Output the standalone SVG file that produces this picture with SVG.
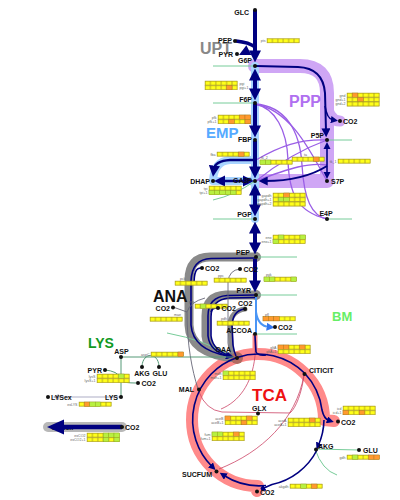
<svg xmlns="http://www.w3.org/2000/svg" xmlns:xlink="http://www.w3.org/1999/xlink" width="400" height="500" viewBox="0 0 400 500">
<style>
.n{font:bold 7px "Liberation Sans",Arial,sans-serif;fill:#111}
.t{font:3.6px "Liberation Sans",Arial,sans-serif;fill:#666}
.big{font-family:"Liberation Sans",Arial,sans-serif;font-weight:bold}
.d{fill:#111}
.main{stroke:#000080;stroke-width:4;fill:none}
.thin{stroke:#000080;stroke-width:1.6;fill:none}
.bm{stroke:#77cc99;stroke-width:1;fill:none}
.pur{stroke:#9a5ee6;stroke-width:1.3;fill:none}
.ana{stroke:#8a8a8a;fill:none;stroke-linecap:round}
.gl{stroke:#666677;stroke-width:0.9;fill:none}
.cr{stroke:#cc4466;stroke-width:0.8;fill:none}
.ly{stroke:#559977;stroke-width:1;fill:none}
</style>
<defs>
<marker id="ah" viewBox="0 0 10 10" refX="3" refY="5" markerWidth="3" markerHeight="3" orient="auto-start-reverse"><path d="M0,0 L10,5 L0,10 z" fill="#000080"/></marker>
<marker id="as" viewBox="0 0 10 10" refX="3" refY="5" markerWidth="4.5" markerHeight="4.5" orient="auto-start-reverse"><path d="M0,0 L10,5 L0,10 z" fill="#000080"/></marker>
<marker id="ab" viewBox="0 0 10 10" refX="3" refY="5" markerWidth="4" markerHeight="4" orient="auto"><path d="M0,0 L10,5 L0,10 z" fill="#3377ee"/></marker>
<marker id="ag" viewBox="0 0 10 10" refX="3" refY="5" markerWidth="4" markerHeight="4" orient="auto"><path d="M0,0 L10,5 L0,10 z" fill="#aaaabb"/></marker>
<pattern id="cy" width="5.4" height="4.4" patternUnits="userSpaceOnUse"><rect width="5.4" height="4.4" fill="#ffff1a" stroke="#a89a20" stroke-width="0.8"/></pattern>
<rect id="s6" width="32.4" height="4.4" fill="url(#cy)" stroke="#a89a20" stroke-width="0.4"/>
<rect id="co" width="5.4" height="4.4" fill="#ff9a2e" stroke="#a87020" stroke-width="0.4"/>
<rect id="cg" width="5.4" height="4.4" fill="#b8f040" stroke="#88a020" stroke-width="0.4"/>
</defs>
<rect width="400" height="500" fill="#fff"/>

<g id="bands">
<path d="M255,66 L300,66 Q327,66 327,93 L327,181 L256,181" stroke="#cfa6f5" stroke-width="14" fill="none" stroke-linejoin="round" stroke-linecap="round"/>
<path d="M327,104 Q329,121 340,121" stroke="#cfa6f5" stroke-width="11" fill="none" stroke-linecap="round"/>
<path d="M255,66 L255,219 M213,181 L255,181 M255,160 L230,160 Q214,161 213,181" stroke="#a8d4ff" stroke-width="8" fill="none" stroke-linecap="round"/>
<path d="M334,421 L324,420 A66,66 0 1 0 258,486 L257,491" stroke="#ff8a8a" stroke-width="12" fill="none" stroke-linecap="round" stroke-linejoin="round"/>
<path d="M255,334 L255,356" stroke="#ff8a8a" stroke-width="5" fill="none"/>
<path class="ana" stroke-width="9" d="M256,257 L210,257 Q189,257 189,280 L189,325 Q190,354 236,358"/>
<path class="ana" stroke-width="9" d="M256,295 L226,295 Q206,296 206,316 L206,336 Q208,355 236,358"/>
<path class="ana" stroke-width="5" d="M245,309 Q231,311 230,325 L231,345 Q232,355 236,358"/>
<circle cx="256" cy="257" r="5" fill="#8a8a8a"/>
<circle cx="256" cy="295" r="5" fill="#8a8a8a"/>
<circle cx="237" cy="358" r="6" fill="#b06a60"/>
<path d="M122,427 L48,427" stroke="#b8b8b8" stroke-width="10" stroke-linecap="round"/>
</g>

<g id="connectors">
<path class="bm" d="M213,66 L255,66 M213,103 L255,103 M327,140 L352,140 M255,181 Q235,195 213,200 M213,219 L255,219 M327,219 L352,219 M256,257 L297,257 M256,295 L297,295 M255,334 L297,334 M167,333 Q205,340 233,357 M315,449 Q322,470 337,475 M315,449 L359,450"/>
<path class="pur" d="M255,104 C285,106 300,130 302,165 C304,200 312,216 327,219"/>
<path class="pur" d="M255,104 C275,108 287,130 288,160 C289,195 298,212 327,219"/>
<path class="pur" d="M255,104 C292,110 312,155 327,181"/>
<path class="pur" d="M256,160 C280,146 300,139 327,140"/>
<path class="pur" d="M256,181 C282,160 305,148 327,140"/>
<path class="pur" d="M256,181 C290,168 310,162 327,165"/>
<path class="main" d="M255,10 L255,54" marker-end="url(#ah)"/>
<path d="M236,41 C245,42 250,43 255,47" stroke="#000080" stroke-width="3.5" fill="none"/>
<polygon points="239,55 251.3,55 246.4,45.2" fill="#000080"/>
<path class="main" d="M255,77 L255,92" marker-start="url(#ah)" marker-end="url(#ah)"/>
<path class="main" d="M255,104 L255,129" marker-end="url(#ah)"/>
<path class="main" d="M255,141 L255,170" marker-end="url(#ah)"/>
<path d="M255,160 L230,160 Q215,161 214,169" stroke="#000080" stroke-width="2.5" fill="none" marker-end="url(#as)"/>
<path d="M222,181 L246,181" stroke="#000080" stroke-width="2.5" fill="none" marker-start="url(#as)" marker-end="url(#as)"/>
<path class="main" d="M255,192 L255,208" marker-start="url(#ah)" marker-end="url(#ah)"/>
<path class="main" d="M255,230 L255,246" marker-start="url(#ah)" marker-end="url(#ah)"/>
<path class="main" d="M255,259 L255,284" marker-end="url(#ah)"/>
<path d="M256,66 L298,67 Q323,68 325,93 L326,131" stroke="#000080" stroke-width="2" fill="none" marker-end="url(#as)"/>
<path d="M325,106 Q327,119 333,120" class="thin" marker-end="url(#as)"/>
<path d="M327,147 L327,174" class="thin" marker-start="url(#as)" marker-end="url(#as)"/>
<path d="M327,166 Q303,181 265,181" stroke="#000080" stroke-width="2" fill="none" marker-end="url(#as)"/>
<path d="M256,297 L256,334" stroke="#4a95f5" stroke-width="2" fill="none"/>
<path d="M256,312 Q258,326 269,327" stroke="#4a95f5" stroke-width="2" fill="none" marker-end="url(#ab)"/>
<path class="thin" d="M255,258 L211,258.5 Q192,259 191,281 L191,325 Q193,350 228,356" marker-end="url(#as)"/>
<path class="thin" d="M194,285 C194,272 196,268 201,268"/>
<path class="thin" d="M255,295 L227,295.5 Q208,297 208,316 L208,336 Q210,352 229,356" marker-end="url(#as)"/>
<path class="thin" d="M255,297.5 L229,298 Q211,300 211,317 L211,336 Q213,351 231,356"/>
<path class="thin" d="M211,312 Q212,308 217,308"/>
<path class="thin" d="M244,309 Q233,311 232,325 L233,345 Q234,352 236,356"/>
<path class="gl" d="M240,269 Q229,270 228,282 L228,343 Q229,354 235,358"/>
<path class="gl" d="M198,389 C192,370 187,345 187,312 L173,307 M187,312 Q190,302 205,298"/>
<path class="cr" d="M255,336 L255,356 C252,385 238,402 221,409"/>
<path class="cr" d="M199,392 Q206,410 222,412 L290,413 C296,408 302,392 304,375"/>
<path class="cr" d="M304,375 C296,420 262,452 219,469"/>
<path d="M255,336 L256,352 Q258,356 266,355" class="thin"/>
<path class="thin" d="M237.2,357.4 A66,66 0 0 1 304.7,373.3"/>
<path class="thin" d="M304.7,373.3 A66,66 0 0 1 322,410 Q324,419 329,420.5" marker-end="url(#as)"/>
<path class="thin" d="M324,420 A66,66 0 0 1 318.5,445" marker-end="url(#as)"/>
<path class="thin" d="M317,450 A66,66 0 0 1 272,484.5 Q266,487 263,488.5" marker-end="url(#as)"/>
<path class="thin" d="M266,485.5 A66,66 0 0 1 224,475.5" marker-end="url(#as)"/>
<path class="thin" d="M237.2,357.4 A66,66 0 0 0 212,466.5" marker-end="url(#as)"/>
<path class="ly" d="M121,357 L233,357 M121,357 L121,397 M105,370 Q117,371 121,378 M121,381 Q125,383 136,383 M142,366 C143,352 158,352 159,366"/>
<path d="M121,397 L57,397" stroke="#c8c8d8" stroke-width="1.5" fill="none" marker-end="url(#ag)"/>
<text class="n" x="51" y="430">CO2ex</text>
<path d="M122,427 L62,427" stroke="#000080" stroke-width="4.5"/>
<polygon points="47,427 64,419.5 64,434.5" fill="#000080"/>
</g>

<g id="strips">
<g transform="translate(267,38.5)"><use href="#s6"/><text class="t" x="-1.5" y="3.6" text-anchor="end">pts</text></g>
<g transform="translate(205,81)"><use href="#s6"/><text class="t" x="34.5" y="3.6">pgi</text></g>
<g transform="translate(205,85.4)"><use href="#s6"/><use href="#co" x="21.6"/><text class="t" x="34.5" y="3.6">pgi+1</text></g>
<g transform="translate(347,93)"><use href="#s6"/><use href="#co" x="5.4"/><text class="t" x="-1.5" y="3.6" text-anchor="end">gnd</text></g>
<g transform="translate(347,97.4)"><use href="#s6"/><use href="#co" x="10.8"/><text class="t" x="-1.5" y="3.6" text-anchor="end">gnd+1</text></g>
<g transform="translate(347,101.8)"><use href="#s6"/><text class="t" x="-1.5" y="3.6" text-anchor="end">gnd+2</text></g>
<g transform="translate(218,115)"><use href="#s6"/><use href="#co" x="21.6"/><use href="#co" x="27"/><text class="t" x="-1.5" y="3.6" text-anchor="end">pfk</text></g>
<g transform="translate(218,119.4)"><use href="#s6"/><use href="#co" x="10.8"/><use href="#co" x="27"/><text class="t" x="-1.5" y="3.6" text-anchor="end">pfk+1</text></g>
<g transform="translate(217,152)"><use href="#s6"/><use href="#co" x="21.6"/><text class="t" x="-1.5" y="3.6" text-anchor="end">fba</text></g>
<g transform="translate(260,160)"><use href="#s6"/><use href="#cg" x="0"/><use href="#cg" x="5.4"/><text class="t" x="1" y="-1">tk_2</text></g>
<g transform="translate(292,157)"><use href="#s6"/><use href="#co" x="21.6"/><text class="t" x="12" y="-1">ta</text></g>
<g transform="translate(338,159)"><use href="#s6"/><text class="t" x="-1.5" y="3.6" text-anchor="end">tk_1</text></g>
<g transform="translate(209,186)"><use href="#s6"/><text class="t" x="-1.5" y="3.6" text-anchor="end">tpi</text></g>
<g transform="translate(209,190.4)"><use href="#s6"/><use href="#cg" x="0"/><use href="#cg" x="5.4"/><use href="#cg" x="10.8"/><use href="#cg" x="16.2"/><use href="#cg" x="21.6"/><text class="t" x="-1.5" y="3.6" text-anchor="end">tpi+1</text></g>
<g transform="translate(273,193)"><use href="#s6"/><use href="#co" x="10.8"/><text class="t" x="-1.5" y="3.6" text-anchor="end">gapdh</text></g>
<g transform="translate(273,197.4)"><use href="#s6"/><use href="#cg" x="5.4"/><use href="#cg" x="10.8"/><text class="t" x="-1.5" y="3.6" text-anchor="end">gapdh+1</text></g>
<g transform="translate(273,201.8)"><use href="#s6"/><text class="t" x="-1.5" y="3.6" text-anchor="end">gapdh+2</text></g>
<g transform="translate(273,235)"><use href="#s6"/><use href="#cg" x="5.4"/><use href="#cg" x="27"/><text class="t" x="-1.5" y="3.6" text-anchor="end">eno</text></g>
<g transform="translate(273,239.4)"><use href="#s6"/><use href="#cg" x="0"/><text class="t" x="-1.5" y="3.6" text-anchor="end">eno+1</text></g>
<g transform="translate(175,281)"><use href="#s6"/><text class="t" x="5" y="-1">pck</text></g>
<g transform="translate(214,278)"><use href="#s6"/><text class="t" x="4" y="-1">ppc</text></g>
<g transform="translate(264,277)"><use href="#s6"/><use href="#cg" x="0"/><use href="#cg" x="5.4"/><use href="#cg" x="27"/><text class="t" x="2" y="-1">pyk</text></g>
<g transform="translate(150,317)"><use href="#s6"/><text class="t" x="24" y="-1">mae</text></g>
<g transform="translate(195,304)"><use href="#s6"/><use href="#cg" x="5.4"/><text class="t" x="-6" y="-1">pyc</text></g>
<g transform="translate(217,321)"><use href="#s6"/><text class="t" x="4" y="-1">pdh</text></g>
<g transform="translate(263,316.5)"><use href="#s6"/><use href="#co" x="0"/><use href="#co" x="5.4"/><use href="#co" x="10.8"/><text class="t" x="2" y="-1">pfl</text></g>
<g transform="translate(278,345)"><use href="#s6"/><use href="#co" x="0"/><use href="#co" x="5.4"/><use href="#co" x="21.6"/><text class="t" x="-1.5" y="3.6" text-anchor="end">gltA</text></g>
<g transform="translate(278,349.4)"><use href="#s6"/><text class="t" x="-1.5" y="3.6" text-anchor="end">gltA+1</text></g>
<g transform="translate(223,371)"><use href="#s6"/><use href="#cg" x="0"/><text class="t" x="-1.5" y="3.6" text-anchor="end">mdh</text></g>
<g transform="translate(223,375.4)"><use href="#s6"/><text class="t" x="-1.5" y="3.6" text-anchor="end">mdh+1</text></g>
<g transform="translate(343,406)"><use href="#s6"/><text class="t" x="-1.5" y="3.6" text-anchor="end">icd</text></g>
<g transform="translate(343,410.4)"><use href="#s6"/><use href="#co" x="0"/><use href="#co" x="16.2"/><text class="t" x="-1.5" y="3.6" text-anchor="end">icd+1</text></g>
<g transform="translate(225,416)"><use href="#s6"/><use href="#co" x="0"/><use href="#co" x="21.6"/><text class="t" x="-1.5" y="3.6" text-anchor="end">aceB</text></g>
<g transform="translate(225,420.4)"><use href="#s6"/><use href="#co" x="16.2"/><text class="t" x="-1.5" y="3.6" text-anchor="end">aceB+1</text></g>
<g transform="translate(288,418)"><use href="#s6"/><use href="#co" x="21.6"/><text class="t" x="-1.5" y="3.6" text-anchor="end">aceA</text></g>
<g transform="translate(288,422.4)"><use href="#s6"/><text class="t" x="-1.5" y="3.6" text-anchor="end">aceA+1</text></g>
<g transform="translate(212,432)"><use href="#s6"/><use href="#cg" x="0"/><use href="#cg" x="5.4"/><use href="#co" x="21.6"/><text class="t" x="-1.5" y="3.6" text-anchor="end">fum</text></g>
<g transform="translate(212,436.4)"><use href="#s6"/><text class="t" x="-1.5" y="3.6" text-anchor="end">fum+1</text></g>
<g transform="translate(347,455)"><use href="#s6"/><use href="#cg" x="5.4"/><use href="#co" x="21.6"/><use href="#co" x="27"/><text class="t" x="-1.5" y="3.6" text-anchor="end">gdh</text></g>
<g transform="translate(290,484)"><use href="#s6"/><use href="#cg" x="10.8"/><use href="#co" x="21.6"/><text class="t" x="-1.5" y="3.6" text-anchor="end">akgdh</text></g>
<g transform="translate(151,352)"><use href="#s6"/><use href="#co" x="27"/><text class="t" x="-1.5" y="3.6" text-anchor="end">aspC</text></g>
<g transform="translate(97,374)"><use href="#s6"/><use href="#cg" x="21.6"/><text class="t" x="-1.5" y="3.6" text-anchor="end">lysS</text></g>
<g transform="translate(97,378.4)"><use href="#s6"/><text class="t" x="-1.5" y="3.6" text-anchor="end">lysS+1</text></g>
<g transform="translate(79,402)"><use href="#s6"/><use href="#co" x="5.4"/><use href="#cg" x="10.8"/><use href="#cg" x="16.2"/><text class="t" x="-1.5" y="3.6" text-anchor="end">exLYS</text></g>
<g transform="translate(87,433)"><use href="#s6"/><use href="#cg" x="16.2"/><use href="#cg" x="21.6"/><use href="#cg" x="27"/><text class="t" x="-1.5" y="3.6" text-anchor="end">exCO2</text></g>
<g transform="translate(87,437.4)"><use href="#s6"/><use href="#cg" x="16.2"/><use href="#cg" x="27"/><text class="t" x="-1.5" y="3.6" text-anchor="end">exCO2+1</text></g>
</g>

<g id="regions">
<text class="big" x="200" y="54" font-size="16" fill="#888">UPT</text>
<text class="big" x="206" y="138" font-size="15" fill="#55aaff">EMP</text>
<text class="big" x="289" y="107" font-size="16" fill="#b070f0">PPP</text>
<text class="big" x="153" y="301.5" font-size="16" fill="#111">ANA</text>
<text class="big" x="88" y="348" font-size="14" fill="#119922">LYS</text>
<text class="big" x="252" y="401" font-size="17" fill="#ee1111">TCA</text>
<text class="big" x="332" y="321" font-size="13" fill="#66ee66">BM</text>
</g>

<g id="nodes">
<g id="n-GLC"><circle class="d" cx="255" cy="10" r="2"/><text class="n" x="249" y="15" text-anchor="end">GLC</text></g>
<g id="n-PEPup"><circle class="d" cx="235" cy="41" r="2"/><text class="n" x="232" y="43" text-anchor="end">PEP</text></g>
<g id="n-PYRup"><circle class="d" cx="237" cy="54" r="2"/><text class="n" x="233" y="56.5" text-anchor="end">PYR</text></g>
<g id="n-G6P"><circle class="d" cx="255" cy="66" r="2"/><text class="n" x="252" y="63" text-anchor="end">G6P</text></g>
<g id="n-F6P"><circle class="d" cx="255" cy="103" r="2"/><text class="n" x="252" y="101.5" text-anchor="end">F6P</text></g>
<g id="n-FBP"><circle class="d" cx="255" cy="140" r="2"/><text class="n" x="252" y="142" text-anchor="end">FBP</text></g>
<g id="n-GA3P"><circle class="d" cx="255" cy="181" r="2"/><text class="n" x="252" y="183" text-anchor="end">GA3P</text></g>
<g id="n-DHAP"><circle class="d" cx="213" cy="181" r="2"/><text class="n" x="210" y="183.5" text-anchor="end">DHAP</text></g>
<g id="n-PGP"><circle class="d" cx="255" cy="219" r="2"/><text class="n" x="252" y="217" text-anchor="end">PGP</text></g>
<g id="n-P5P"><circle class="d" cx="327" cy="140" r="2"/><text class="n" x="324" y="137.5" text-anchor="end">P5P</text></g>
<g id="n-S7P"><circle class="d" cx="327" cy="181" r="2"/><text class="n" x="331" y="183.5">S7P</text></g>
<g id="n-E4P"><circle class="d" cx="327" cy="219" r="2"/><text class="n" x="326" y="215.5" text-anchor="middle">E4P</text></g>
<g id="n-CO2ppp"><circle class="d" cx="340" cy="121" r="2"/><text class="n" x="343" y="123.5">CO2</text></g>
<g id="n-PEP"><circle class="d" cx="256" cy="257" r="2"/><text class="n" x="250" y="255" text-anchor="end">PEP</text></g>
<g id="n-PYR"><circle class="d" cx="256" cy="295" r="2"/><text class="n" x="251" y="293" text-anchor="end">PYR</text></g>
<g id="n-CO2a"><circle class="d" cx="202" cy="268" r="2"/><text class="n" x="205" y="271">CO2</text></g>
<g id="n-CO2b"><circle class="d" cx="240" cy="269" r="2"/><text class="n" x="243.5" y="272">CO2</text></g>
<g id="n-CO2c"><circle class="d" cx="173" cy="307.5" r="2"/><text class="n" x="170" y="310.5" text-anchor="end">CO2</text></g>
<g id="n-CO2d"><circle class="d" cx="218" cy="308" r="2"/><text class="n" x="221.5" y="310.5">CO2</text></g>
<g id="n-CO2e"><circle class="d" cx="245" cy="309" r="2"/><text class="n" x="238" y="305.5">CO2</text></g>
<g id="n-ACCOA"><circle class="d" cx="255" cy="334" r="2"/><text class="n" x="252" y="333" text-anchor="end">ACCOA</text></g>
<g id="n-CO2f"><circle class="d" cx="275" cy="327" r="2"/><text class="n" x="278" y="329.5">CO2</text></g>
<g id="n-OAA"><circle class="d" cx="237" cy="358" r="2"/><text class="n" x="231" y="352" text-anchor="end">OAA</text></g>
<g id="n-CITICIT"><circle class="d" cx="304.5" cy="374" r="2"/><text class="n" x="309" y="373">CITICIT</text></g>
<g id="n-GLX"><circle class="d" cx="258" cy="413.5" r="2"/><text class="n" x="252" y="410.5">GLX</text></g>
<g id="n-CO2tca"><circle class="d" cx="338" cy="421.5" r="2"/><text class="n" x="341" y="425">CO2</text></g>
<g id="n-AKG"><circle class="d" cx="316" cy="449.5" r="2"/><text class="n" x="318" y="448.5">AKG</text></g>
<g id="n-GLU"><circle class="d" cx="359" cy="450" r="2"/><text class="n" x="363" y="452.5">GLU</text></g>
<g id="n-SUCFUM"><circle class="d" cx="216.5" cy="471.5" r="2"/><text class="n" x="212" y="477" text-anchor="end">SUCFUM</text></g>
<g id="n-CO2bot"><circle cx="257" cy="491.5" r="4.5" fill="#ff8a8a"/><circle class="d" cx="257" cy="491.5" r="2"/><text class="n" x="260" y="494.5">CO2</text></g>
<g id="n-MAL"><circle class="d" cx="199" cy="389.5" r="2"/><text class="n" x="194" y="392" text-anchor="end">MAL</text></g>
<g id="n-ASP"><circle class="d" cx="121" cy="357" r="2"/><text class="n" x="121.5" y="354" text-anchor="middle">ASP</text></g>
<g id="n-PYRl"><circle class="d" cx="105" cy="370" r="2"/><text class="n" x="102" y="372.5" text-anchor="end">PYR</text></g>
<g id="n-AKGl"><circle class="d" cx="142" cy="367" r="2"/><text class="n" x="142" y="375.5" text-anchor="middle">AKG</text></g>
<g id="n-GLUl"><circle class="d" cx="159" cy="367" r="2"/><text class="n" x="160" y="375.5" text-anchor="middle">GLU</text></g>
<g id="n-CO2l"><circle class="d" cx="138" cy="383" r="2"/><text class="n" x="141.5" y="386">CO2</text></g>
<g id="n-LYS"><circle class="d" cx="121" cy="397" r="2"/><text class="n" x="118" y="399.5" text-anchor="end">LYS</text></g>
<g id="n-LYSex"><circle class="d" cx="48" cy="397" r="2"/><text class="n" x="51" y="399.5">LYSex</text></g>
<g id="n-CO2ex"><circle class="d" cx="122" cy="427" r="2"/><text class="n" x="125" y="430">CO2</text></g>
</g>
</svg>
